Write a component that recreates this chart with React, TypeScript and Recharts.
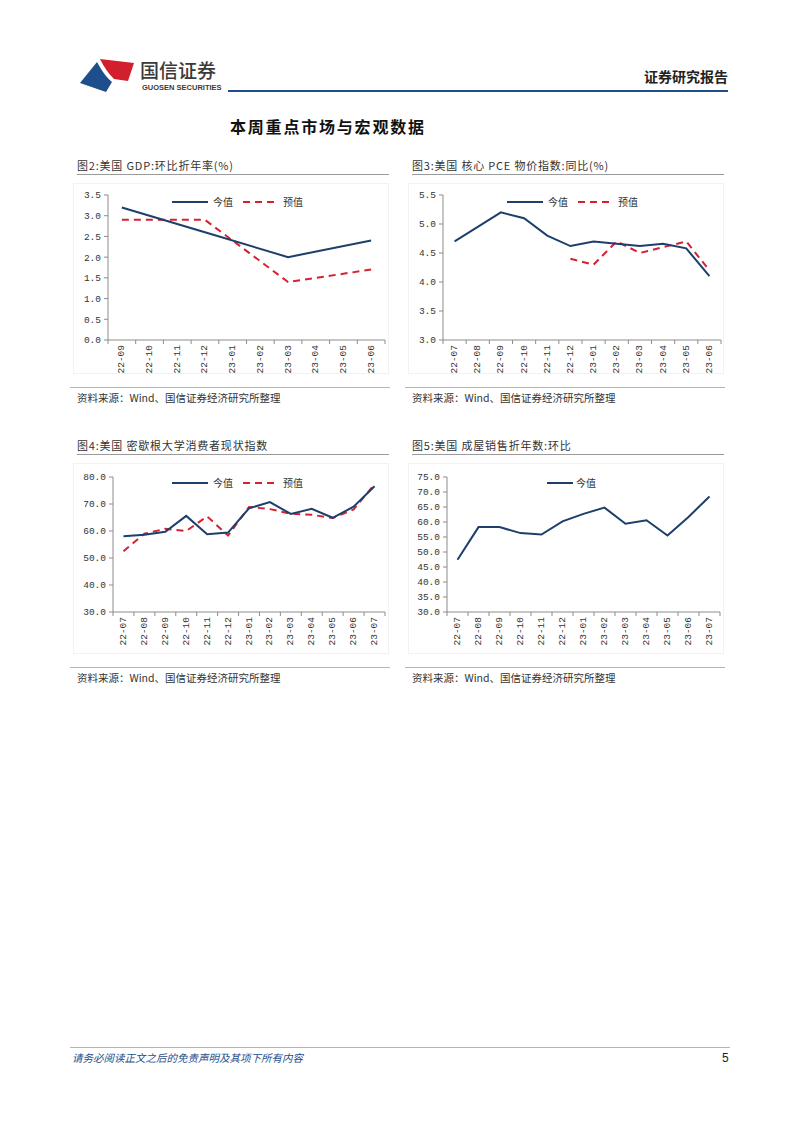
import React from 'react';
import { LineChart, Line, XAxis, YAxis } from 'recharts';

// ---------- data ----------
const gdpCats = ['22-09', '22-10', '22-11', '22-12', '23-01', '23-02', '23-03', '23-04', '23-05', '23-06'];
const gdpActual = [3.2, null, null, 2.6, null, null, 2.0, null, null, 2.4];
const gdpForecast = [2.9, null, null, 2.9, null, null, 1.4, null, null, 1.7];
const gdpTicks = [0, 0.5, 1, 1.5, 2, 2.5, 3, 3.5];

const pceCats = ['22-07', '22-08', '22-09', '22-10', '22-11', '22-12', '23-01', '23-02', '23-03', '23-04', '23-05', '23-06'];
const pceActual = [4.7, 4.95, 5.2, 5.1, 4.8, 4.62, 4.7, 4.66, 4.62, 4.66, 4.58, 4.1];
const pceForecast = [null, null, null, null, null, 4.4, 4.3, 4.7, 4.5, 4.6, 4.7, 4.2];
const pceTicks = [3, 3.5, 4, 4.5, 5, 5.5];

const miCats = ['22-07', '22-08', '22-09', '22-10', '22-11', '22-12', '23-01', '23-02', '23-03', '23-04', '23-05', '23-06', '23-07'];
const miActual = [58.1, 58.6, 59.7, 65.6, 58.8, 59.4, 68.4, 70.7, 66.3, 68.2, 64.9, 69.0, 76.6];
const miForecast = [52.5, 59.0, 60.8, 60.0, 65.4, 58.3, 68.9, 68.1, 66.4, 66.0, 64.8, 68.0, 77.3];
const miTicks = [30, 40, 50, 60, 70, 80];

const ehsCats = ['22-07', '22-08', '22-09', '22-10', '22-11', '22-12', '23-01', '23-02', '23-03', '23-04', '23-05', '23-06', '23-07'];
const ehsActual = [47.4, 58.3, 58.3, 56.3, 55.8, 60.2, 62.7, 64.8, 59.4, 60.6, 55.5, 61.7, 68.5];
const ehsTicks = [30, 35, 40, 45, 50, 55, 60, 65, 70, 75];

const NAVY = '#1d3f6b';
const RED = '#d8202f';
const AXIS = '#8c8c8c';
const CJK = '"Noto Sans CJK SC", "Noto Sans", sans-serif';
const MONO = '"Liberation Mono", "DejaVu Sans Mono", monospace';

type PanelProps = {
  left: number;
  top: number;
  height: number;
  yWidth: number;
  marginTop: number;
  marginRight: number;
  cats: string[];
  actual: (number | null)[];
  forecast?: (number | null)[];
  ticks: number[];
};

function Panel(p: PanelProps) {
  const width = 320;
  const data = p.cats.map((c, i) => ({
    cat: c,
    actual: p.actual[i],
    forecast: p.forecast ? p.forecast[i] : null,
  }));
  const plotW = width - p.yWidth - p.marginRight;
  const bw = plotW / p.cats.length;
  const XTick = (props: any) => {
    const { x, y, payload, index } = props;
    return (
      <g>
        <line x1={x + bw / 2} y1={y} x2={x + bw / 2} y2={y + 4} stroke={AXIS} strokeWidth={1} />
        {index === 0 && <line x1={x - bw / 2} y1={y} x2={x - bw / 2} y2={y + 4} stroke={AXIS} strokeWidth={1} />}
        <text
          transform={`translate(${x},${y}) rotate(-90)`}
          x={-5}
          y={0}
          textAnchor="end"
          dominantBaseline="central"
          fontSize={9.5}
          fontFamily={MONO}
          fill="#333"
        >
          {payload.value}
        </text>
      </g>
    );
  };
  return (
    <div style={{ position: 'absolute', left: p.left, top: p.top }}>
      <LineChart
        width={width}
        height={p.height}
        data={data}
        margin={{ top: p.marginTop, right: p.marginRight, bottom: 0, left: 0 }}
      >
        <XAxis
          dataKey="cat"
          scale="band"
          interval={0}
          height={40}
          tickLine={false}
          tickSize={0}
          tickMargin={0}
          axisLine={{ stroke: AXIS, strokeWidth: 1 }}
          tick={<XTick />}
        />
        <YAxis
          type="number"
          domain={[p.ticks[0], p.ticks[p.ticks.length - 1]]}
          ticks={p.ticks}
          interval={0}
          width={p.yWidth}
          tickFormatter={(v: number) => v.toFixed(1)}
          tick={{ fontSize: 9.5, fill: '#333', fontFamily: MONO }}
          tickLine={{ stroke: AXIS }}
          tickSize={4}
          tickMargin={3}
          axisLine={{ stroke: AXIS, strokeWidth: 1 }}
        />
        {p.forecast && (
          <Line
            dataKey="forecast"
            stroke={RED}
            strokeWidth={2}
            strokeDasharray="7 5"
            dot={false}
            connectNulls
            isAnimationActive={false}
          />
        )}
        <Line
          dataKey="actual"
          stroke={NAVY}
          strokeWidth={2}
          dot={false}
          connectNulls
          isAnimationActive={false}
        />
      </LineChart>
    </div>
  );
}

function Legend2({ left, top, dashed }: { left: number; top: number; dashed: boolean }) {
  return (
    <div style={{ position: 'absolute', left, top, height: 14, fontFamily: CJK, fontSize: 10, color: '#333', display: 'flex', alignItems: 'center' }}>
      <svg width={36} height={6} style={{ display: 'block' }}>
        <line x1={0} y1={3} x2={36} y2={3} stroke={NAVY} strokeWidth={2} />
      </svg>
      <span style={{ marginLeft: 5, lineHeight: '14px' }}>今值</span>
      {dashed && (
        <>
          <svg width={32} height={6} style={{ display: 'block', marginLeft: 10 }}>
            <line x1={0} y1={3} x2={32} y2={3} stroke={RED} strokeWidth={2} strokeDasharray="7 5" />
          </svg>
          <span style={{ marginLeft: 8, lineHeight: '14px' }}>预值</span>
        </>
      )}
    </div>
  );
}

function Legend1({ left, top }: { left: number; top: number }) {
  return (
    <div style={{ position: 'absolute', left, top, height: 14, fontFamily: CJK, fontSize: 10, color: '#333', display: 'flex', alignItems: 'center' }}>
      <svg width={26} height={6} style={{ display: 'block' }}>
        <line x1={0} y1={3} x2={26} y2={3} stroke={NAVY} strokeWidth={2} />
      </svg>
      <span style={{ marginLeft: 3, lineHeight: '14px' }}>今值</span>
    </div>
  );
}

function Frame({ left, top, title }: { left: number; top: number; title: string }) {
  return (
    <>
      <div style={{ position: 'absolute', left: left + 7, top: top - 8, fontFamily: CJK, fontSize: 11, letterSpacing: 0.8, color: '#333', whiteSpace: 'nowrap', lineHeight: '16px' }}>
        {title}
      </div>
      <div style={{ position: 'absolute', left: left + 7, top: top + 9, width: 312, height: 0, borderTop: '1.5px solid #9a9a9a' }} />
      <div style={{ position: 'absolute', left: left + 3, top: top + 18, width: 316, height: 191, border: '1px solid #f2f2f2', boxSizing: 'border-box' }} />
      <div style={{ position: 'absolute', left: left, top: top + 222, width: 320, height: 0, borderTop: '1px solid #b5b5b5' }} />
      <div style={{ position: 'absolute', left: left + 7, top: top + 225, fontFamily: CJK, fontSize: 10.5, color: '#333', whiteSpace: 'nowrap', lineHeight: '16px' }}>
        资料来源：Wind、国信证券经济研究所整理
      </div>
    </>
  );
}

export default function App() {
  return (
    <div style={{ position: 'absolute', left: 0, top: 0, width: 802, height: 1133, background: '#fff', overflow: 'hidden' }}>
      {/* logo */}
      <svg style={{ position: 'absolute', left: 78, top: 55 }} width={60} height={40}>
        <path d="M22 4 L56 8 L50 26 L36 24 C30 18 26 12 22 4 Z" fill="#d21f2d" />
        <path d="M19 7 C24 16 28 22 34 27 L28 37 L2 28 Z" fill="#1f4e8c" />
      </svg>
      <div style={{ position: 'absolute', left: 140, top: 58, fontFamily: CJK, fontSize: 19, fontWeight: 500, color: '#3a3a3a', lineHeight: '24px', letterSpacing: 0 }}>
        国信证券
      </div>
      <div style={{ position: 'absolute', left: 142, top: 83, fontFamily: '"Liberation Sans Narrow", "Liberation Sans", Arial, sans-serif', fontSize: 7.5, fontWeight: 700, color: '#3a3a3a', lineHeight: '9px', whiteSpace: 'nowrap' }}>
        GUOSEN SECURITIES
      </div>
      <div style={{ position: 'absolute', right: 802 - 728, top: 67, fontFamily: CJK, fontSize: 14, fontWeight: 700, color: '#222', lineHeight: '18px', whiteSpace: 'nowrap' }}>
        证券研究报告
      </div>
      <div style={{ position: 'absolute', left: 228, top: 90, width: 500, height: 2, background: '#1f4e8c' }} />
      <div style={{ position: 'absolute', left: 230, top: 115, fontFamily: CJK, fontSize: 16, fontWeight: 700, color: '#111', lineHeight: '22px', letterSpacing: 1.8, whiteSpace: 'nowrap' }}>
        本周重点市场与宏观数据
      </div>

      {/* panels row 1 */}
      <Frame left={70} top={165} title="图2:美国 GDP:环比折年率(%)" />
      <Frame left={405} top={165} title="图3:美国 核心 PCE 物价指数:同比(%)" />
      <Panel left={70} top={185} height={195} yWidth={38} marginTop={10} marginRight={5} cats={gdpCats} actual={gdpActual} forecast={gdpForecast} ticks={gdpTicks} />
      <Panel left={405} top={185} height={195} yWidth={38} marginTop={10} marginRight={4} cats={pceCats} actual={pceActual} forecast={pceForecast} ticks={pceTicks} />
      <Legend2 left={172} top={195} dashed />
      <Legend2 left={507} top={195} dashed />

      {/* panels row 2 */}
      <Frame left={70} top={445} title="图4:美国 密歇根大学消费者现状指数" />
      <Frame left={405} top={445} title="图5:美国 成屋销售折年数:环比" />
      <Panel left={70} top={465} height={187} yWidth={43} marginTop={12} marginRight={5} cats={miCats} actual={miActual} forecast={miForecast} ticks={miTicks} />
      <Panel left={405} top={465} height={187} yWidth={42} marginTop={12} marginRight={5} cats={ehsCats} actual={ehsActual} ticks={ehsTicks} />
      <Legend2 left={172} top={476} dashed />
      <Legend1 left={547} top={476} />

      {/* footer */}
      <div style={{ position: 'absolute', left: 70, top: 1047, width: 660, height: 0, borderTop: '1.5px solid #a8b6c6' }} />
      <div style={{ position: 'absolute', left: 72, top: 1050, fontFamily: CJK, fontSize: 10.5, fontStyle: 'italic', color: '#1f4e8c', lineHeight: '15px', whiteSpace: 'nowrap' }}>
        请务必阅读正文之后的免责声明及其项下所有内容
      </div>
      <div style={{ position: 'absolute', left: 722, top: 1051, fontFamily: '"Liberation Sans", Arial, sans-serif', fontSize: 12, color: '#222', lineHeight: '15px' }}>
        5
      </div>
    </div>
  );
}
